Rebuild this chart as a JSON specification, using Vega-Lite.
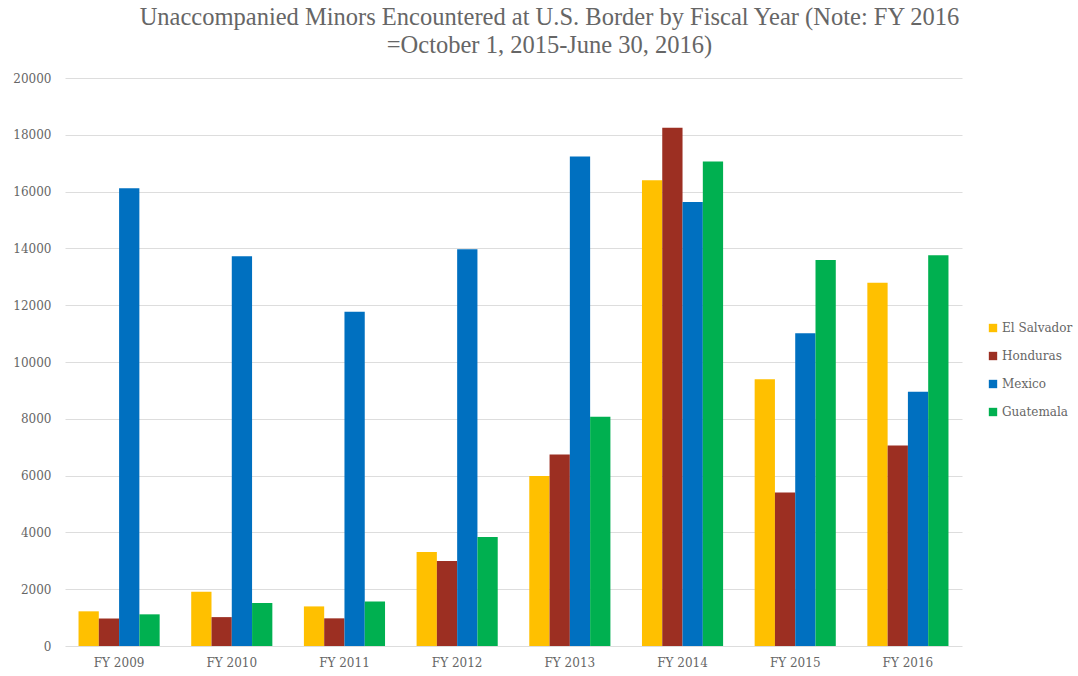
{
  "$schema": "https://vega.github.io/schema/vega-lite/v6.json",
  "width": 897,
  "height": 568,
  "autosize": {"type": "none"},
  "padding": {"left": 65, "top": 78, "right": 116, "bottom": 30},
  "background": "white",
  "title": {
    "text": ["Unaccompanied Minors Encountered at U.S. Border by Fiscal Year (Note: FY 2016", "=October 1, 2015-June 30, 2016)"],
    "font": "Liberation Serif",
    "fontSize": 24.5,
    "fontWeight": "normal",
    "color": "#666666",
    "anchor": "middle",
    "lineHeight": 28,
    "offset": 14,
    "dx": 36
  },
  "config": {
    "view": {"stroke": null},
    "axis": {"labelFont": "DejaVu Serif", "labelColor": "#666666", "labelFontSize": 12}
  },
  "data": {
    "values": [
      {"year": "FY 2009", "country": "El Salvador", "value": 1221},
      {"year": "FY 2009", "country": "Honduras", "value": 968},
      {"year": "FY 2009", "country": "Mexico", "value": 16114},
      {"year": "FY 2009", "country": "Guatemala", "value": 1115},
      {"year": "FY 2010", "country": "El Salvador", "value": 1910},
      {"year": "FY 2010", "country": "Honduras", "value": 1017},
      {"year": "FY 2010", "country": "Mexico", "value": 13724},
      {"year": "FY 2010", "country": "Guatemala", "value": 1517},
      {"year": "FY 2011", "country": "El Salvador", "value": 1394},
      {"year": "FY 2011", "country": "Honduras", "value": 974},
      {"year": "FY 2011", "country": "Mexico", "value": 11768},
      {"year": "FY 2011", "country": "Guatemala", "value": 1565},
      {"year": "FY 2012", "country": "El Salvador", "value": 3314},
      {"year": "FY 2012", "country": "Honduras", "value": 2997},
      {"year": "FY 2012", "country": "Mexico", "value": 13974},
      {"year": "FY 2012", "country": "Guatemala", "value": 3835},
      {"year": "FY 2013", "country": "El Salvador", "value": 5990},
      {"year": "FY 2013", "country": "Honduras", "value": 6747},
      {"year": "FY 2013", "country": "Mexico", "value": 17240},
      {"year": "FY 2013", "country": "Guatemala", "value": 8068},
      {"year": "FY 2014", "country": "El Salvador", "value": 16404},
      {"year": "FY 2014", "country": "Honduras", "value": 18244},
      {"year": "FY 2014", "country": "Mexico", "value": 15634},
      {"year": "FY 2014", "country": "Guatemala", "value": 17057},
      {"year": "FY 2015", "country": "El Salvador", "value": 9389},
      {"year": "FY 2015", "country": "Honduras", "value": 5409},
      {"year": "FY 2015", "country": "Mexico", "value": 11012},
      {"year": "FY 2015", "country": "Guatemala", "value": 13589},
      {"year": "FY 2016", "country": "El Salvador", "value": 12790},
      {"year": "FY 2016", "country": "Honduras", "value": 7060},
      {"year": "FY 2016", "country": "Mexico", "value": 8950},
      {"year": "FY 2016", "country": "Guatemala", "value": 13760}
    ]
  },
  "mark": {"type": "bar"},
  "encoding": {
    "x": {
      "field": "year",
      "type": "nominal",
      "title": null,
      "scale": {"paddingInner": 0.28, "paddingOuter": 0.12},
      "axis": {"labelAngle": 0, "ticks": false, "domain": false, "labelPadding": 11}
    },
    "xOffset": {
      "field": "country",
      "type": "nominal",
      "sort": ["El Salvador", "Honduras", "Mexico", "Guatemala"]
    },
    "y": {
      "field": "value",
      "type": "quantitative",
      "title": null,
      "scale": {"domain": [0, 20000], "nice": false},
      "axis": {"values": [0, 2000, 4000, 6000, 8000, 10000, 12000, 14000, 16000, 18000, 20000], "format": "d", "ticks": false, "domain": false, "labelPadding": 14, "gridColor": "#dddddd", "gridWidth": 1}
    },
    "color": {
      "field": "country",
      "type": "nominal",
      "sort": ["El Salvador", "Honduras", "Mexico", "Guatemala"],
      "scale": {"domain": ["El Salvador", "Honduras", "Mexico", "Guatemala"], "range": ["#FFC000", "#9C2F22", "#0070C0", "#00B050"]},
      "legend": {
        "title": null,
        "orient": "none",
        "legendX": 922,
        "legendY": 244,
        "symbolType": "square",
        "symbolSize": 70,
        "symbolStrokeWidth": 0,
        "labelFont": "DejaVu Serif",
        "labelFontSize": 12,
        "labelColor": "#666666",
        "labelOffset": 3,
        "rowPadding": 16
      }
    }
  }
}
